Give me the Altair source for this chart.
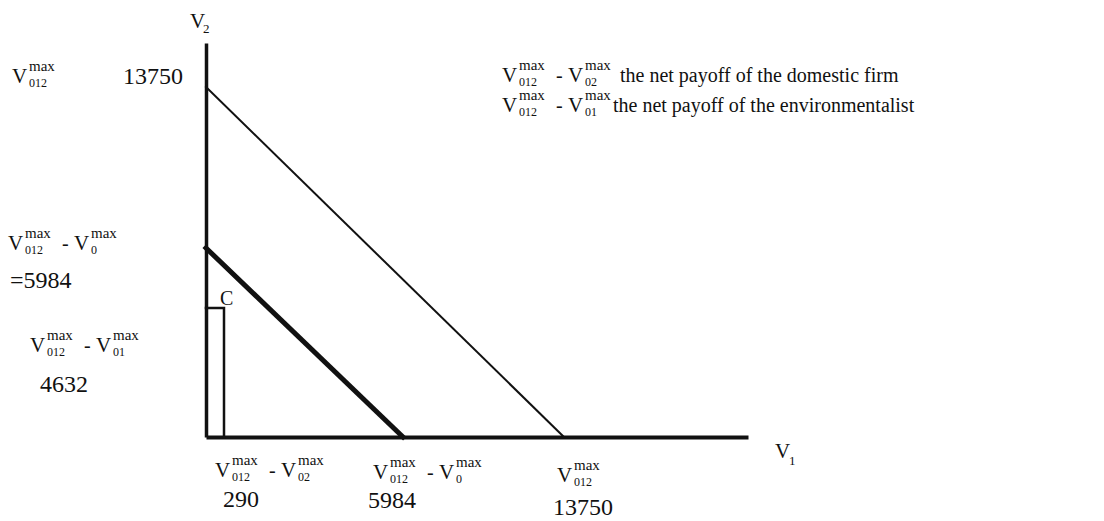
import altair as alt
import pandas as pd

# Payoff values shown on the diagram
peak_payoff = 13750      # V^max_012
joint_net = 5984         # V^max_012 - V^max_0
firm_net = 290           # V^max_012 - V^max_02
env_net = 4632           # V^max_012 - V^max_01
v1_end = 22600           # end of the v1 axis
v2_end = 15870           # end of the v2 axis

# Breakpoints of the (non-proportional) axes
x_domain = [0, firm_net, joint_net, peak_payoff, v1_end]
x_range = [0, 18, 197, 358, 542]
y_domain = [0, env_net, joint_net, peak_payoff, v2_end]
y_range = [394, 265, 205, 44, 0]

FONT = "Liberation Serif"
INK = "#111111"

xscale = alt.Scale(domain=x_domain, range=x_range, nice=False, zero=False)
yscale = alt.Scale(domain=y_domain, range=y_range, nice=False, zero=False)
xaxis = alt.Axis(domain=True, domainWidth=4, domainColor=INK, ticks=False,
                 labels=False, grid=False, title=None)
yaxis = alt.Axis(domain=True, domainWidth=3.5, domainColor=INK, ticks=False,
                 labels=False, grid=False, title=None)


def xy(xf, yf):
    return dict(x=alt.X(f"{xf}:Q", scale=xscale, axis=xaxis),
                y=alt.Y(f"{yf}:Q", scale=yscale, axis=yaxis))


# Segments of the diagram
outer = pd.DataFrame({"v1": [0, peak_payoff], "v2": [peak_payoff, 0], "step": [0, 1]})
inner = pd.DataFrame({"v1": [0, joint_net], "v2": [joint_net, 0], "step": [0, 1]})
corner = pd.DataFrame({"v1": [0, firm_net, firm_net], "v2": [env_net, env_net, 0],
                       "step": [0, 1, 2]})


def seg(df, width):
    return alt.Chart(df).mark_line(color=INK, strokeWidth=width, strokeCap="square").encode(
        order="step:O", **xy("v1", "v2"))


# Text pieces: anchored at a data point, shifted by pixel offsets
pieces = []


def put(ax, ay, ox, oy, label, fs):
    pieces.append(dict(ax=ax, ay=ay, ox=ox, oy=oy, label=label, fs=fs))


def formula(subs, ax, ay, ox, oy):
    x = ox
    for i, s in enumerate(subs):
        if i:
            put(ax, ay, x + 6, oy, "-", 20)
            x += 18
        put(ax, ay, x, oy, "V", 21)
        put(ax, ay, x + 17, oy - 12, "max", 15)
        put(ax, ay, x + 17, oy + 4, s, 12)
        x += 48


# left of the v2 axis
formula(["012"], 0, peak_payoff, -194, -4)
put(0, peak_payoff, -83, -3, "13750", 24)
formula(["012", "0"], 0, joint_net, -198, 2)
put(0, joint_net, -196, 40, "=5984", 24)
formula(["012", "01"], 0, env_net, -176, 44)
put(0, env_net, -166, 84, "4632", 24)

# below the v1 axis
formula(["012", "02"], firm_net, 0, -9, 40)
put(firm_net, 0, -1, 70, "290", 24)
formula(["012", "0"], joint_net, 0, -30, 42)
put(joint_net, 0, -35, 71, "5984", 24)
formula(["012"], peak_payoff, 0, -7, 45)
put(peak_payoff, 0, -11, 78, "13750", 24)

# axis names
put(0, v2_end, -16, -15, "V", 21)
put(0, v2_end, -3, -10, "2", 13)
put(v1_end, 0, 27, 21, "V", 21)
put(v1_end, 0, 41, 28, "1", 13)

# point C
put(firm_net, env_net, -4, -3, "C", 20)

# key in the upper right
formula(["012", "02"], 0, v2_end, 296, 39)
put(0, v2_end, 414, 39, "the net payoff of the domestic firm", 20)
formula(["012", "01"], 0, v2_end, 296, 69)
put(0, v2_end, 407, 69, "the net payoff of the environmentalist", 20)

labels = pd.DataFrame(pieces)
labels["id"] = range(len(labels))

text_layers = [
    alt.Chart(labels).transform_filter(alt.datum.id == int(r.id)).mark_text(
        align="left", baseline="alphabetic", font=FONT, color=INK,
        dx=float(r.ox), dy=float(r.oy), fontSize=float(r.fs),
    ).encode(text="label:N", **xy("ax", "ay"))
    for r in labels.itertuples()
]

chart = alt.layer(
    seg(outer, 2), seg(inner, 5), seg(corner, 2.5), *text_layers
).properties(
    width=542, height=394,
    padding={"left": 206, "top": 43, "right": 356, "bottom": 84},
    autosize=alt.AutoSizeParams(type="none"),
    background="white",
).configure_view(strokeWidth=0)

chart.save("out.html", embed_options={"renderer": "svg", "actions": False})
